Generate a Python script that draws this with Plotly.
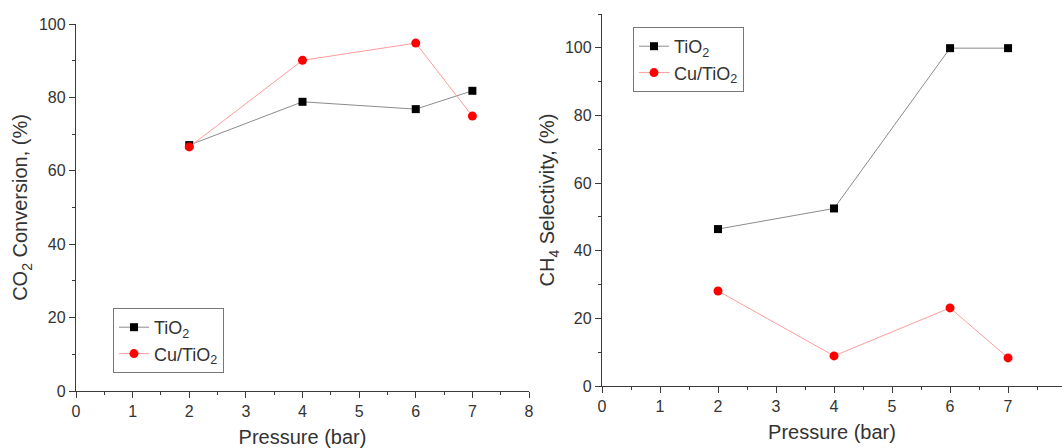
import plotly.graph_objects as go

# Pressure levels (bar)
pressure = [2, 4, 6, 7]

# CO2 conversion (%)
conv_tio2 = [67, 78.8, 76.8, 81.8]
conv_cu = [66.5, 90.1, 94.8, 74.9]

# CH4 selectivity (%)
sel_tio2 = [46.4, 52.5, 99.9, 99.9]
sel_cu = [28.1, 8.9, 23.1, 8.3]

name_tio2 = "TiO<sub>2</sub>"
name_cu = "Cu/TiO<sub>2</sub>"

FONT = "Liberation Sans, Arial, sans-serif"
TXT = "#333333"
AX = "#3a3a3a"

black_line = dict(color="#8c8c8c", width=1)
red_line = dict(color="#ff9c9c", width=1)
sq = dict(symbol="square", size=8, color="black")
dot = dict(symbol="circle", size=9, color="red")

fig = go.Figure()
fig.add_trace(go.Scatter(x=pressure, y=conv_tio2, name=name_tio2, mode="lines+markers",
                         line=black_line, marker=sq, xaxis="x", yaxis="y", legend="legend"))
fig.add_trace(go.Scatter(x=pressure, y=conv_cu, name=name_cu, mode="lines+markers",
                         line=red_line, marker=dot, xaxis="x", yaxis="y", legend="legend"))
fig.add_trace(go.Scatter(x=pressure, y=sel_tio2, name=name_tio2, mode="lines+markers",
                         line=black_line, marker=sq, xaxis="x2", yaxis="y2", legend="legend2"))
fig.add_trace(go.Scatter(x=pressure, y=sel_cu, name=name_cu, mode="lines+markers",
                         line=red_line, marker=dot, xaxis="x2", yaxis="y2", legend="legend2"))

axis_common = dict(
    showline=True, linecolor=AX, linewidth=1.3, showgrid=False, zeroline=False,
    ticks="outside", ticklen=6, tickwidth=1.3, tickcolor=AX, automargin=False,
    tickfont=dict(family=FONT, size=16, color=TXT),
    title_font=dict(family=FONT, size=20, color=TXT),
)
minor_x = dict(ticks="outside", ticklen=3, tickwidth=1.2, dtick=0.5, tickcolor=AX)
minor_y = dict(ticks="outside", ticklen=3, tickwidth=1.2, dtick=10, tickcolor=AX)

W, H = 1062, 448

fig.update_layout(
    width=W, height=H,
    margin=dict(l=0, r=0, t=0, b=0, autoexpand=False),
    paper_bgcolor="white", plot_bgcolor="white",
    font=dict(family=FONT, color=TXT),
    xaxis=dict(axis_common, domain=[76 / W, 529 / W], range=[0, 8], dtick=1,
               anchor="y", minor=minor_x,
               title=dict(text="Pressure (bar)", standoff=10)),
    yaxis=dict(axis_common, domain=[1 - 391 / H, 1 - 24 / H], range=[0, 100], dtick=20,
               anchor="x", minor=minor_y,
               title=dict(text="CO<sub>2</sub> Conversion, (%)", standoff=5)),
    xaxis2=dict(axis_common, domain=[602 / W, 1.0], range=[0, 7.93], dtick=1,
                anchor="y2", minor=minor_x,
                title=dict(text="Pressure (bar)", standoff=10)),
    yaxis2=dict(axis_common, domain=[1 - 386 / H, 1 - 14 / H], range=[0, 110], dtick=20,
                anchor="x2", minor=minor_y,
                title=dict(text="CH<sub>4</sub> Selectivity, (%)", standoff=4)),
    legend=dict(x=113 / W, y=1 - 308 / H, xanchor="left", yanchor="top",
                bordercolor="#777777", borderwidth=1, bgcolor="white",
                font=dict(family=FONT, size=18, color=TXT), itemwidth=30, tracegroupgap=0),
    legend2=dict(x=633 / W, y=1 - 27 / H, xanchor="left", yanchor="top",
                 bordercolor="#777777", borderwidth=1, bgcolor="white",
                 font=dict(family=FONT, size=18, color=TXT), itemwidth=30, tracegroupgap=0),
)

fig.write_html("out.html")
